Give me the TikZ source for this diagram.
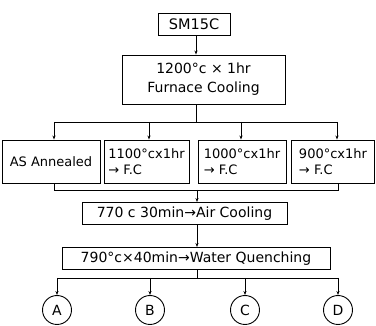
\documentclass[tikz,border=0pt]{standalone}
\usepackage{fontspec}
\setmainfont{DejaVu Sans}
\usetikzlibrary{arrows.meta}

\begin{document}
\begin{tikzpicture}[
        x=1pt, y=1pt,
        font=\fontsize{14}{16}\selectfont,
        line width=0.7pt,
        box/.style={draw, line width=0.9pt, inner sep=2pt, align=center,
                    minimum height=#1},
        box/.default=22pt,
        small/.style={font=\fontsize{13}{16}\selectfont},
        stage/.style={draw, circle, line width=0.9pt, minimum size=29pt, inner sep=0pt},
        tip/.style={-{Stealth[length=4pt, width=3pt]}}
      ]
      \useasboundingbox (0,0) rectangle (376,-326);
      % material and first treatment
      \node[box, minimum width=72pt, font=\fontsize{14.5}{16}\selectfont] (sm) at (194,-24) {SM15C};
      \node[box=49pt, minimum width=163pt] (heat1) at (203.5,-79.5)
            {1200°c × 1hr\\[3pt]Furnace Cooling};
      % second treatment
      \node[box=43pt, minimum width=98pt, small] (ann) at (51,-161.5) {AS Annealed};
      \node[box=43pt, minimum width=85pt, small, align=left] (f1100) at (146.5,-161.5)
            {1100°cx1hr\\→ F.C};
      \node[box=43pt, minimum width=88pt, small, align=left] (f1000) at (242,-161.5)
            {1000°cx1hr\\→ F.C};
      \node[box=43pt, minimum width=83pt, small, align=left] (f900)  at (333,-161.5)
            {900°cx1hr\\→ F.C};
      % final treatments
      \node[box, minimum width=205pt] (air) at (184.5,-213.5) {770 c  30min→Air Cooling};
      \node[box, minimum width=268pt] (wq)  at (196,-258.5)   {790°c×40min→Water Quenching};
      % specimens
      \node[stage] (A) at (57,-310)  {A};
      \node[stage] (B) at (150,-310) {B};
      \node[stage] (C) at (245,-310) {C};
      \node[stage] (D) at (338,-310) {D};

      \coordinate (split1) at (196,-122);
      \coordinate (join1)  at (197,-190);
      \coordinate (split2) at (197,-278);

      \draw[tip] (sm.south -| split1) -- (heat1.north -| split1);
      \draw (heat1.south -| split1) -- (split1);
      \draw (split1 -| 54,0) -- (split1 -| 337,0);
      \draw[tip] (split1 -| 54,0)  -- (ann.north -| 54,0);
      \draw[tip] (split1 -| 149,0) -- (f1100.north -| 149,0);
      \draw[tip] (split1 -| 241,0) -- (f1000.north -| 241,0);
      \draw[tip] (split1 -| 337,0) -- (f900.north -| 337,0);

      \draw (ann.south -| 54,0) -- (join1 -| 54,0) -- (join1 -| 338,0) -- (f900.south -| 338,0);
      \draw[tip] (join1) -- (air.north -| join1);
      \draw[tip] (air.south -| join1) -- (wq.north -| join1);

      \draw (wq.south -| split2) -- (split2);
      \draw (split2 -| A) -- (split2 -| D);
      \foreach \s in {A,B,C,D}
        \draw[tip] (split2 -| \s) -- (\s);
    \end{tikzpicture}
\end{document}
